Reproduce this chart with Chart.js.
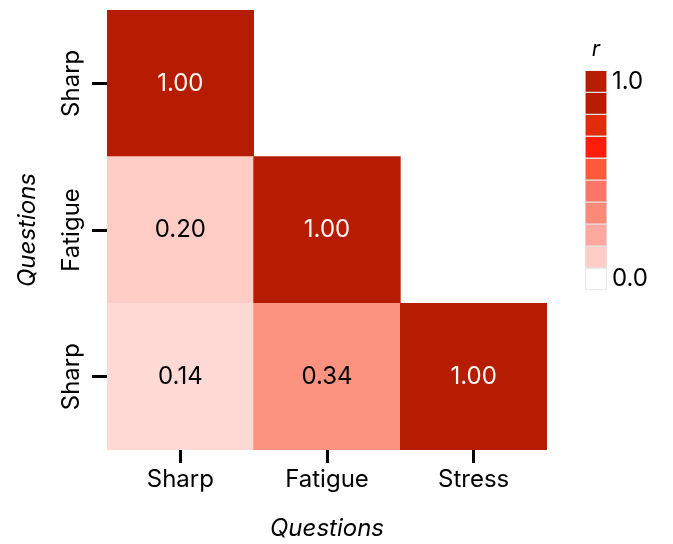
<!DOCTYPE html>
<html>
<head>
<meta charset="utf-8">
<script src="https://cdn.jsdelivr.net/npm/chart.js@4"></script>
<style>
  html, body { margin: 0; padding: 0; background: #fff; }
  #wrap { position: relative; width: 673px; height: 544px; }
  #main { position: absolute; left: 0; top: 0; }
  #bar { position: absolute; left: 560px; top: 30px; }
</style>
</head>
<body>
<div id="wrap">
  <canvas id="main" width="673" height="544"></canvas>
  <canvas id="bar" width="110" height="270"></canvas>
</div>
<script>
// heatmap data
const colLabels = ['Sharp', 'Fatigue', 'Stress'];
const rowLabels = ['Sharp', 'Fatigue', 'Sharp'];
const row0 = [1.00, null, null];
const row1 = [0.20, 1.00, null];
const row2 = [0.14, 0.34, 1.00];
const rowValues = [row0, row1, row2];

// colour bar bins, bottom (0.0) to top (1.0)
const binColors = ['#ffffff', '#ffcdc7', '#ffa89f', '#fd8a78', '#fe7567',
                   '#ff5a3a', '#fe1c0a', '#e02c08', '#b81b02', '#b81d04'];
const barTickLabels = ['0.0', '1.0'];

const FONT = 'Inter, "Noto Sans", sans-serif';

// continuous scale used for cells
const stops = [[0, [255, 255, 255]], [0.14, [255, 218, 213]], [0.2, [255, 204, 198]],
               [0.34, [252, 147, 128]], [1, [181, 28, 2]]];
function cellColor(v) {
  for (let i = 1; i < stops.length; i++) {
    if (v <= stops[i][0]) {
      const a = stops[i - 1], b = stops[i];
      const t = (v - a[0]) / (b[0] - a[0]);
      const c = a[1].map((x, k) => Math.round(x + (b[1][k] - x) * t));
      return 'rgb(' + c.join(',') + ')';
    }
  }
  return 'rgb(181,28,2)';
}

const cells = [];
rowValues.forEach((vals, r) => {
  vals.forEach((v, c) => {
    if (v !== null) cells.push({ x: colLabels[c], y: [r, r + 1], v: v });
  });
});

const cellText = {
  id: 'cellText',
  afterDatasetsDraw(chart) {
    const ctx = chart.ctx;
    const meta = chart.getDatasetMeta(0);
    ctx.save();
    ctx.font = '24px ' + FONT;
    ctx.textAlign = 'center';
    ctx.textBaseline = 'middle';
    meta.data.forEach((el, i) => {
      const v = cells[i].v;
      const p = el.getCenterPoint();
      ctx.fillStyle = v > 0.5 ? '#fff8f2' : '#000';
      ctx.fillText(v.toFixed(2), p.x, p.y);
    });
    ctx.restore();
  }
};

new Chart(document.getElementById('main'), {
  type: 'bar',
  data: {
    labels: colLabels,
    datasets: [{
      data: cells,
      backgroundColor: cells.map(d => cellColor(d.v)),
      borderWidth: 0,
      barPercentage: 1,
      categoryPercentage: 1
    }]
  },
  options: {
    responsive: false,
    animation: false,
    layout: { padding: { top: 10, right: 126, left: 0, bottom: 0 } },
    plugins: { legend: { display: false }, tooltip: { enabled: false } },
    scales: {
      x: {
        type: 'category',
        afterFit(s) { s.height = 94; },
        grid: { drawOnChartArea: false, offset: false, tickLength: 13, lineWidth: 3, color: '#000' },
        border: { display: false },
        ticks: { color: '#000', font: { family: FONT, size: 24 }, padding: 2 },
        title: { display: true, text: 'Questions', color: '#000',
                 font: { family: FONT, size: 24, style: 'italic' }, padding: { top: 0, bottom: 1 } }
      },
      y: {
        type: 'linear',
        min: 0, max: 3, reverse: true,
        afterFit(s) { s.width = 107; },
        afterBuildTicks(s) { s.ticks = rowLabels.map((_, i) => ({ value: i + 0.5 })); },
        grid: { drawOnChartArea: false, tickLength: 15, lineWidth: 3, color: '#000' },
        border: { display: false },
        ticks: {
          color: '#000', font: { family: FONT, size: 24 },
          minRotation: 90, maxRotation: 90, crossAlign: 'center', padding: -22,
          callback: (v, i) => rowLabels[i]
        },
        title: { display: true, text: 'Questions', color: '#000',
                 font: { family: FONT, size: 24, style: 'italic' }, padding: { top: 13, bottom: 0 } }
      }
    }
  },
  plugins: [cellText]
});

// colour bar legend
new Chart(document.getElementById('bar'), {
  type: 'bar',
  data: {
    labels: [''],
    datasets: binColors.map(c => ({
      data: [1],
      backgroundColor: c,
      borderColor: '#e2e2e2',
      borderWidth: 1,
      borderSkipped: false,
      barPercentage: 1,
      categoryPercentage: 1
    }))
  },
  options: {
    responsive: false,
    animation: false,
    layout: { padding: { top: 0, right: 3, left: 25, bottom: 10 } },
    plugins: {
      legend: { display: false }, tooltip: { enabled: false },
      title: { display: true, text: 'r', fullSize: false, color: '#000',
               font: { family: FONT, size: 22, style: 'italic', weight: 'normal' },
               padding: { top: 6, bottom: 8 } }
    },
    scales: {
      x: { display: false, stacked: true },
      y: {
        position: 'right', stacked: true, min: 0, max: 10,
        afterFit(s) { s.width = 60; s.paddingTop = 0; s.paddingBottom = 0; },
        afterBuildTicks(s) { s.ticks = [{ value: 0.5 }, { value: 9.5 }]; },
        grid: { display: false, drawTicks: false },
        border: { display: false },
        ticks: { color: '#000', font: { family: FONT, size: 24 }, padding: 5,
                 callback: (v, i) => barTickLabels[i] }
      }
    }
  }
});
</script>
</body>
</html>
